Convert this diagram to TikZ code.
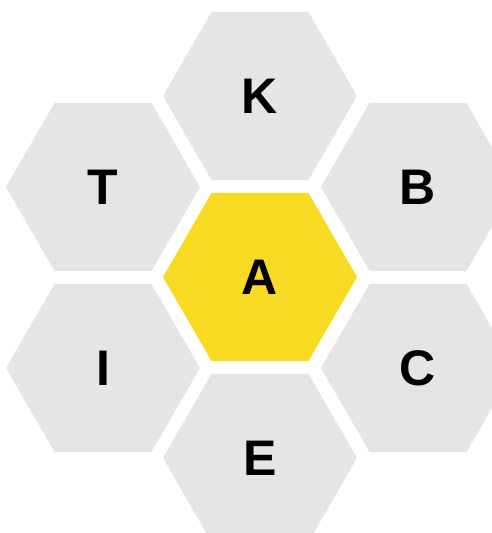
\documentclass[tikz,border=0pt]{standalone}
\usepackage{fontspec}
\setmainfont{Liberation Sans}
\usepackage{xcolor}
\definecolor{beeyellow}{HTML}{F7DA21}
\definecolor{beegray}{HTML}{E5E5E5}
\definecolor{beetext}{HTML}{000000}
\usepackage{tikz}
\usetikzlibrary{shapes.geometric}

\begin{document}
\begin{tikzpicture}[
    x=1pt, y=1pt,
    font=\fontsize{50}{60}\selectfont\bfseries,
    text=beetext,
    hexcell/.style={regular polygon, regular polygon sides=6, minimum size=194pt, inner sep=0pt, outer sep=0pt, fill=beegray},
    center/.style={hexcell, fill=beeyellow},
]
\useasboundingbox (0,0) rectangle (492,533);
\clip (0,0) rectangle (492,533);

\node[center] (a) at (260, 256) {A};
\node[hexcell] (k) at (260, 437) {K};
\node[hexcell] (t) at (103, 346) {T};
\node[hexcell] (b) at (418, 346) {B};
\node[hexcell] (i) at (103, 165) {I};
\node[hexcell] (c) at (418, 165) {C};
\node[hexcell] (e) at (260, 75) {E};
\end{tikzpicture}
\end{document}
